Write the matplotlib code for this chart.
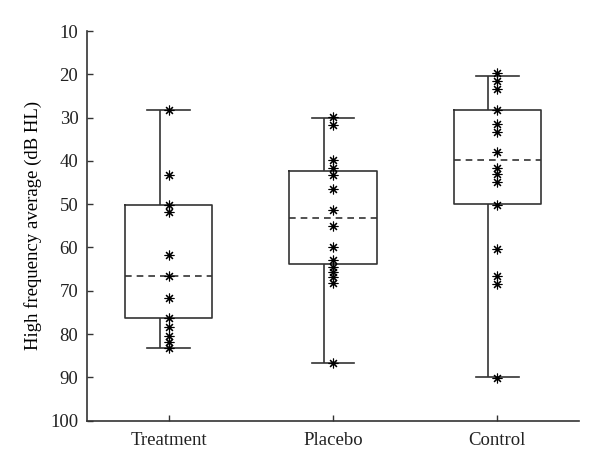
import numpy as np
import matplotlib
matplotlib.use('Agg')
import matplotlib.pyplot as plt

groups = ['Treatment', 'Placebo', 'Control']

# individual subjects (dB HL)
treatment = [28.3, 43.3, 50.1, 51.8, 61.7, 66.6, 71.7, 76.4, 78.4, 80.4, 81.9, 83.3]
placebo = [29.8, 31.8, 39.9, 41.6, 43.3, 46.6, 51.4, 55.1, 59.9, 63.0, 64.6,
           65.7, 66.9, 68.3, 86.7]
control = [19.8, 21.6, 23.4, 28.3, 31.4, 33.3, 37.9, 41.6, 43.1, 44.9, 50.1,
           60.3, 66.7, 68.4, 90.1]

# box summaries
q1 = [50.1, 42.3, 28.3]
med = [66.6, 53.1, 39.7]
q3 = [76.4, 63.9, 50.0]
whislo = [28.3, 30.1, 20.3]
whishi = [83.3, 86.7, 90.0]

yticks = [10, 20, 30, 40, 50, 60, 70, 80, 90, 100]

plt.rcParams['font.family'] = ['Liberation Serif', 'DejaVu Serif']
col = '#333333'

fig = plt.figure(figsize=(6, 4.7), dpi=100)
ax = fig.add_axes([0.1445, 0.105, 0.821, 0.829])

pos = np.arange(1, len(groups) + 1)
stats = [dict(q1=a, med=m, q3=b, whislo=lo, whishi=hi, label=g)
         for a, m, b, lo, hi, g in zip(q1, med, q3, whislo, whishi, groups)]
ax.bxp(stats, positions=pos, widths=0.53, capwidths=0.26, showfliers=False,
       boxprops=dict(color=col, lw=1.2),
       medianprops=dict(color=col, lw=1.2, ls=(0, (4, 3))),
       whiskerprops=dict(linestyle='none'),
       capprops=dict(color=col, lw=1.2))

# whiskers sit a little left of the box centre in the original
off = 0.053
ax.vlines(pos - off, whislo, q1, color=col, lw=1.2)
ax.vlines(pos - off, q3, whishi, color=col, lw=1.2)

for p, vals in zip(pos, [treatment, placebo, control]):
    ax.plot([p] * len(vals), vals, ls='none', marker=(8, 2, 0), ms=7,
            mew=0.8, color='black', zorder=5)

ax.set_xlim(0.5, 3.5)
ax.set_ylim(100, 10)
ax.set_yticks(yticks)
ax.set_xticks(pos)
ax.set_xticklabels(groups)
ax.set_ylabel('High frequency average (dB HL)', fontsize=13.5, labelpad=6)
ax.tick_params(direction='in', length=4, width=1, color=col, labelsize=13.5,
               labelcolor='#222222')
ax.tick_params(axis='y', pad=6)
ax.tick_params(axis='x', pad=8)
for s in ['top', 'right']:
    ax.spines[s].set_visible(False)
for s in ['left', 'bottom']:
    ax.spines[s].set_color(col)
    ax.spines[s].set_linewidth(1.2)

fig.savefig('out.png', dpi=100)
